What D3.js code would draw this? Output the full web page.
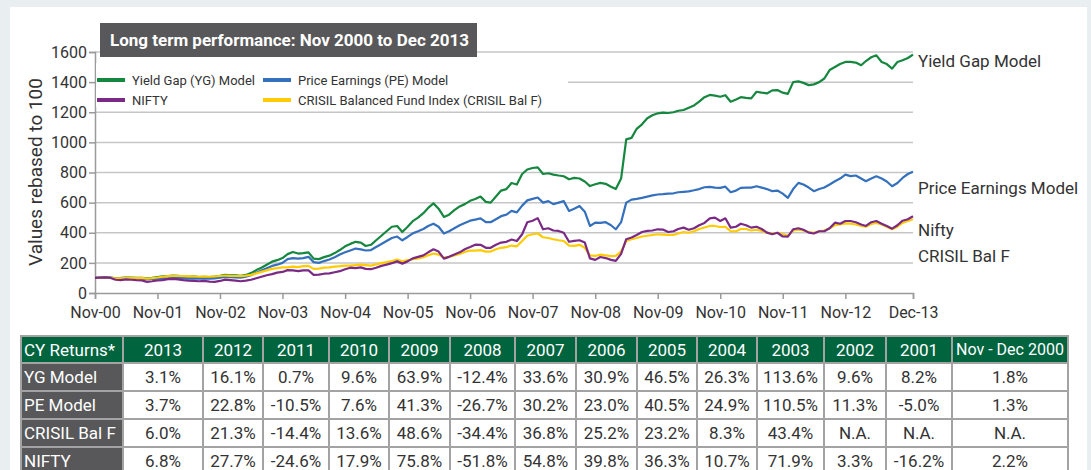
<!DOCTYPE html>
<html>
<head>
<meta charset="utf-8">
<script src="https://cdn.jsdelivr.net/npm/d3@7"></script>
<style>
    html, body { margin: 0; padding: 0; background: #e9eef1; }
    svg { display: block; font-family: Roboto, "Noto Sans", sans-serif; }
</style>
</head>
<body>
<div id="chart"></div>
<script>
// Monthly values, Nov 2000 .. Dec 2013 (rebased to 100)
const ygModel = [100,102,
    104,103,98,100,103,102,100,101,97,101,106,110,
    112,116,114,111,108,110,106,108,106,109,114,121,
    118,117,114,120,132,152,168,188,208,218,232,258,
    272,262,265,270,228,225,238,248,265,285,310,326,
    340,335,312,320,350,380,410,440,445,405,440,477,
    500,530,565,595,560,505,520,550,575,590,612,624,
    640,605,600,640,680,690,730,720,790,820,830,834,
    790,795,786,780,775,755,764,760,740,710,722,731,
    725,705,690,760,1020,1030,1090,1120,1160,1180,1193,1198,
    1195,1200,1210,1215,1230,1245,1270,1300,1315,1310,1303,1313,
    1270,1285,1300,1295,1292,1336,1330,1325,1345,1347,1330,1322,
    1400,1405,1395,1380,1385,1400,1424,1480,1500,1520,1534,1535,
    1530,1512,1540,1565,1578,1534,1520,1490,1534,1545,1560,1583];

const peModel = [100,101,
    102,100,97,98,100,99,98,97,92,94,95,96,
    98,101,100,99,96,97,95,96,95,97,102,107,
    105,104,102,108,118,135,150,165,180,188,200,225,
    232,228,232,240,205,200,212,222,238,255,270,282,
    295,290,282,285,305,325,345,365,375,350,372,396,
    410,425,445,460,440,395,410,430,450,465,480,487,
    495,470,470,490,510,520,545,535,580,615,625,634,
    600,610,590,600,610,545,560,577,540,445,467,465,
    470,450,423,470,600,620,625,632,640,648,654,656,
    660,662,669,672,675,682,690,702,705,700,698,706,
    669,680,698,700,700,709,700,690,676,680,660,632,
    690,731,720,700,676,690,700,720,742,760,786,776,
    780,760,742,760,775,760,740,709,730,764,790,805];

const nifty = [100,102,
    104,100,88,86,90,88,85,84,74,78,84,86,
    92,94,90,85,82,80,78,80,76,74,80,89,
    86,82,78,82,88,98,108,118,125,135,140,152,
    150,145,150,150,120,122,128,130,138,145,158,168,
    165,170,160,158,168,180,188,198,210,195,210,230,
    240,250,270,290,275,228,240,255,270,290,305,321,
    320,300,300,320,335,340,355,345,390,470,480,497,
    423,430,415,412,400,340,346,350,335,230,220,239,
    232,220,213,260,357,368,385,405,412,415,423,421,
    405,410,425,434,420,430,450,465,495,500,478,496,
    434,440,460,450,434,440,425,401,390,400,375,374,
    423,430,420,401,395,410,410,430,467,460,478,478,
    470,455,445,470,478,460,445,427,450,480,490,510];

const crisilBalF = [100,101,
    103,100,97,98,101,100,99,100,96,99,103,108,
    112,114,113,112,110,110,108,109,108,110,113,116,
    114,113,112,115,120,130,140,150,160,165,170,170,
    175,172,178,180,160,162,168,170,175,178,182,182,
    185,188,185,182,190,198,205,212,222,210,218,224,
    230,238,250,262,255,235,240,250,260,272,282,281,
    285,275,275,290,300,305,315,310,345,380,390,395,
    370,365,357,350,345,315,313,320,300,250,246,255,
    250,245,246,275,345,357,365,375,380,385,390,388,
    385,385,395,405,400,410,425,435,445,445,438,440,
    410,410,425,425,415,420,412,401,395,400,392,380,
    415,420,415,405,400,410,415,430,450,455,462,460,
    455,445,440,458,465,455,440,423,440,465,478,490];

const yTicks = [0, 200, 400, 600, 800, 1000, 1200, 1400, 1600];

// Calendar-year returns table
const tableHeader = ['CY Returns*', '2013', '2012', '2011', '2010', '2009', '2008', '2007',
    '2006', '2005', '2004', '2003', '2002', '2001', 'Nov - Dec 2000'];
const rowNames = ['YG Model', 'PE Model', 'CRISIL Bal F', 'NIFTY'];
const ygReturns = ['3.1%', '16.1%', '0.7%', '9.6%', '63.9%', '-12.4%', '33.6%', '30.9%', '46.5%', '26.3%', '113.6%', '9.6%', '8.2%', '1.8%'];
const peReturns = ['3.7%', '22.8%', '-10.5%', '7.6%', '41.3%', '-26.7%', '30.2%', '23.0%', '40.5%', '24.9%', '110.5%', '11.3%', '-5.0%', '1.3%'];
const crisilReturns = ['6.0%', '21.3%', '-14.4%', '13.6%', '48.6%', '-34.4%', '36.8%', '25.2%', '23.2%', '8.3%', '43.4%', 'N.A.', 'N.A.', 'N.A.'];
const niftyReturns = ['6.8%', '27.7%', '-24.6%', '17.9%', '75.8%', '-51.8%', '54.8%', '39.8%', '36.3%', '10.7%', '71.9%', '3.3%', '-16.2%', '2.2%'];

(function() {
    'use strict';

    const width = 1091, height = 470;
    const months = d3.timeMonth.range(new Date(2000, 10, 1), new Date(2014, 0, 1));

    const series = [
        { name: 'Yield Gap (YG) Model', end: 'Yield Gap Model', values: ygModel, color: '#16873f' },
        { name: 'Price Earnings (PE) Model', end: 'Price Earnings Model', values: peModel, color: '#3570bd' },
        { name: 'CRISIL Balanced Fund Index (CRISIL Bal F)', end: 'CRISIL Bal F', values: crisilBalF, color: '#ffcb05' },
        { name: 'NIFTY', end: 'Nifty', values: nifty, color: '#7a2a85' }
    ];

    const svg = d3.select('#chart').append('svg')
        .attr('width', width)
        .attr('height', height);

    // white panel
    svg.append('rect')
        .attr('x', 10).attr('y', 7)
        .attr('width', 1077).attr('height', height - 7)
        .attr('fill', '#fff');

    const x = d3.scaleTime()
        .domain([months[0], months[months.length - 1]])
        .range([95, 913]);
    const y = d3.scaleLinear()
        .domain([0, 1600])
        .range([293, 52]);

    // Gridlines
    svg.append('g').selectAll('line')
        .data(yTicks.filter(d => d > 0))
        .enter().append('line')
        .attr('x1', 95).attr('x2', 913)
        .attr('y1', d => y(d)).attr('y2', d => y(d))
        .attr('stroke', '#c6c6c6')
        .attr('stroke-width', 1.5);

    // Y axis
    const yAxis = svg.append('g')
        .attr('transform', 'translate(95,0)')
        .call(d3.axisLeft(y).tickValues(yTicks).tickFormat(d3.format('d')).tickSize(6).tickPadding(2));
    // X axis: every November, then the last month
    const xTicks = d3.timeYear.range(new Date(2000, 0, 1), new Date(2013, 0, 1))
        .map(d => new Date(d.getFullYear(), 10, 1))
        .concat([months[months.length - 1]]);
    const xAxis = svg.append('g')
        .attr('transform', 'translate(0,293)')
        .call(d3.axisBottom(x).tickValues(xTicks).tickFormat(d3.timeFormat('%b-%y')).tickSize(6).tickPadding(8));

    [yAxis, xAxis].forEach(ax => {
        ax.select('.domain').attr('stroke', '#9a9a9a').attr('stroke-width', 1.5);
        ax.selectAll('.tick line').attr('stroke', '#9a9a9a').attr('stroke-width', 1.5);
        ax.selectAll('.tick text')
            .attr('fill', '#333')
            .attr('font-size', 16)
            .attr('font-family', 'Roboto, sans-serif');
    });

    svg.append('text')
        .attr('transform', 'translate(42,172) rotate(-90)')
        .attr('text-anchor', 'middle')
        .attr('font-size', 19)
        .attr('fill', '#333')
        .text('Values rebased to 100');

    // Lines
    const line = d3.line()
        .x((d, i) => x(months[i]))
        .y(d => y(d));
    svg.append('g').selectAll('path')
        .data(series)
        .enter().append('path')
        .attr('d', d => line(d.values))
        .attr('fill', 'none')
        .attr('stroke', d => d.color)
        .attr('stroke-width', 2.2)
        .attr('stroke-linejoin', 'round');

    // End labels
    const endOffsets = { 'Yield Gap Model': 6, 'Price Earnings Model': 16, 'Nifty': 14, 'CRISIL Bal F': 37 };
    svg.append('g').selectAll('text')
        .data(series)
        .enter().append('text')
        .attr('x', 918)
        .attr('y', d => y(d.values[d.values.length - 1]) + endOffsets[d.end])
        .attr('dy', '0.35em')
        .attr('font-size', 17)
        .attr('fill', '#333')
        .text(d => d.end);

    // Title box
    svg.append('rect')
        .attr('x', 100).attr('y', 23)
        .attr('width', 377).attr('height', 34)
        .attr('fill', '#58585a');
    svg.append('text')
        .attr('x', 110).attr('y', 46)
        .attr('font-size', 17)
        .attr('font-weight', 'bold')
        .attr('fill', '#fff')
        .text('Long term performance: Nov 2000 to Dec 2013');

    // Legend
    const legend = svg.append('g');
    legend.append('rect')
        .attr('x', 96).attr('y', 63)
        .attr('width', 472).attr('height', 44)
        .attr('fill', '#fff');
    const legendOrder = [series[0], series[1], series[3], series[2]];
    const item = legend.selectAll('.item')
        .data(legendOrder)
        .enter().append('g')
        .attr('class', 'item')
        .attr('transform', (d, i) => `translate(${i % 2 ? 263 : 97},${i < 2 ? 80 : 100})`);
    item.append('line')
        .attr('x1', 0).attr('x2', 28)
        .attr('stroke', d => d.color)
        .attr('stroke-width', 4);
    item.append('text')
        .attr('x', 35)
        .attr('dy', '0.35em')
        .attr('font-size', 13)
        .attr('fill', '#333')
        .text(d => d.name);

    // Returns table
    const colEdges = [21, 123, 203, 263, 329, 389, 450, 515, 576, 637, 697, 757, 824, 886, 952, 1068];
    const rowEdges = [336, 363, 391, 419, 447, 475];
    const rows = [ygReturns, peReturns, crisilReturns, niftyReturns]
        .map((vals, i) => [rowNames[i]].concat(vals));
    const cells = [tableHeader].concat(rows);

    const table = svg.append('g');
    cells.forEach((row, r) => {
        row.forEach((txt, c) => {
            const x0 = colEdges[c], x1 = colEdges[c + 1];
            const y0 = rowEdges[r], y1 = rowEdges[r + 1];
            let fill = '#fff', color = '#333';
            if (r === 0) { fill = '#00643f'; color = '#fff'; }
            else if (c === 0) { fill = '#58585a'; color = '#fff'; }
            table.append('rect')
                .attr('x', x0).attr('y', y0)
                .attr('width', x1 - x0).attr('height', y1 - y0)
                .attr('fill', fill)
                .attr('stroke', '#a3a3a3')
                .attr('stroke-width', 2);
            table.append('text')
                .attr('x', c === 0 ? x0 + 3 : (x0 + x1) / 2)
                .attr('y', (y0 + y1) / 2)
                .attr('dy', '0.36em')
                .attr('text-anchor', c === 0 ? 'start' : 'middle')
                .attr('font-size', txt.length > 12 ? 16 : 17)
                .attr('fill', color)
                .text(txt);
        });
    });
})();
</script>
</body>
</html>
